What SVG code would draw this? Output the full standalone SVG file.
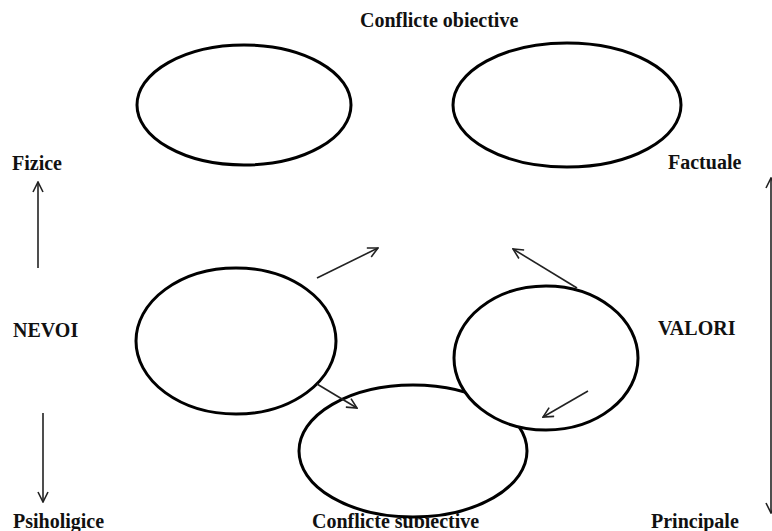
<svg xmlns="http://www.w3.org/2000/svg" width="772" height="531" viewBox="0 0 772 531">
<style>
text{font-family:"Liberation Serif","Times New Roman",serif;font-weight:bold;font-size:20px;fill:#111}
.e{fill:#fff;stroke:#000;stroke-width:3}
.en{fill:none;stroke:#000;stroke-width:3}
.a{stroke:#222;stroke-width:1.6;fill:none;marker-end:url(#ah)}
</style>
<defs>
<marker id="ah" viewBox="0 0 12 12" refX="11" refY="6" markerWidth="12" markerHeight="12" markerUnits="userSpaceOnUse" orient="auto-start-reverse">
<path d="M1,1 L11,6 L1,11" fill="none" stroke="#222" stroke-width="1.6"/>
</marker>
</defs>
<g id="labels">
<text x="360" y="27">Conflicte obiective</text>
<text x="12" y="170">Fizice</text>
<text x="668" y="169">Factuale</text>
<text x="13" y="337">NEVOI</text>
<text x="658" y="335">VALORI</text>
<text x="13" y="528">Psiholigice</text>
<text x="312" y="528">Conflicte subiective</text>
<text x="651" y="528">Principale</text>
</g>
<g id="node-top-left"><ellipse class="e" cx="244" cy="105" rx="107" ry="60"/></g>
<g id="node-top-right"><ellipse class="e" cx="567" cy="105" rx="114" ry="62"/></g>
<g id="node-bottom"><ellipse class="e" cx="413" cy="451" rx="114" ry="66"/></g>
<g id="node-nevoi"><ellipse class="en" cx="236" cy="341" rx="100" ry="73"/></g>
<g id="node-valori"><ellipse class="e" cx="546" cy="358" rx="92" ry="72"/></g>
<g id="connectors">
<line class="a" x1="38" y1="268" x2="38" y2="182"/>
<line class="a" x1="43" y1="413" x2="43" y2="502"/>
<line class="a" x1="317" y1="278" x2="378" y2="248"/>
<line class="a" x1="577" y1="288" x2="513" y2="249"/>
<line class="a" x1="317" y1="384" x2="357" y2="408"/>
<line class="a" x1="588" y1="391" x2="543" y2="417"/>
<line stroke="#222" stroke-width="1.6" x1="771" y1="178" x2="771" y2="513" marker-start="url(#ah)" marker-end="url(#ah)"/>
</g>
</svg>
